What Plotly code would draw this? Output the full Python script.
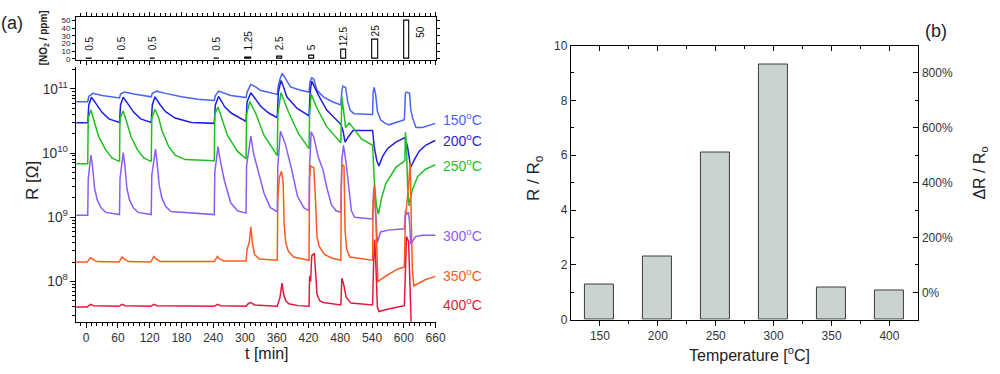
import plotly.graph_objects as go

FONT = "Liberation Sans, Arial, sans-serif"
W, H = 1000, 374

# ---------------- panel (a): resistance transients ----------------
t150 = [-19, 3, 5, 13, 30, 61, 63, 65, 72, 90, 121, 123, 125, 133, 150, 180, 211, 242, 244, 250, 273, 302,
        304, 311, 320, 330, 361, 363, 366, 370, 375, 386, 405, 421, 423, 426, 430, 436, 448, 465, 481,
        483, 485, 490, 494, 499, 506, 541, 542, 544, 547, 550, 556, 565, 572, 601,
        603, 605, 611, 613, 617, 623, 635, 660]
r150 = [6.3e10, 6.3e10, 7.6e10, 8.5e10, 7.9e10, 7.2e10, 7.2e10, 8.3e10, 8.9e10, 8.3e10, 7.5e10, 7.5e10, 8.5e10,
        9.2e10, 8.5e10, 7.5e10, 6.9e10, 6.6e10, 7.8e10, 9.2e10, 7.9e10, 7.3e10,
        8.9e10, 1.17e11, 1.07e11, 9.4e10, 8.2e10, 1.12e11, 1.41e11, 1.74e11, 1.51e11, 1.07e11, 9.5e10, 8.9e10,
        1.32e11, 1.48e11, 1.41e11, 9.5e10, 7.5e10, 6.3e10, 5.6e10,
        9.5e10, 1.10e11, 1.05e11, 6.3e10, 4.6e10, 4.1e10, 4.0e10, 8.9e10, 1.05e11, 7.9e10, 4.5e10, 3.3e10,
        2.9e10, 2.75e10, 3.3e10, 8.5e10, 8.9e10, 8.5e10, 4.8e10, 3.4e10, 2.5e10, 2.5e10, 2.9e10]

t200 = [-19, 3, 5, 10, 18, 30, 43, 61, 63, 65, 70, 78, 90, 103, 121, 123, 125, 130, 140, 150, 168, 199, 242,
        244, 250, 262, 274, 302, 304, 311, 330, 345, 361, 363, 368, 372, 379, 398, 421,
        423, 426, 430, 439, 454, 470, 481, 485, 489, 495, 504, 541,
        544, 549, 553, 560, 569, 585, 602, 607, 613, 620, 629, 641, 660]
r200 = [2.95e10, 2.95e10, 5.6e10, 7.4e10, 6.0e10, 4.3e10, 3.4e10, 3.0e10, 3.0e10, 5.6e10, 7.4e10, 6.0e10,
        4.3e10, 3.4e10, 3.0e10, 3.0e10, 5.6e10, 7.5e10, 5.6e10, 4.4e10, 3.5e10, 3.0e10, 2.9e10,
        5.6e10, 7.6e10, 5.2e10, 4.2e10, 3.1e10, 6.3e10, 8.7e10, 5.3e10, 4.2e10, 3.55e10, 8.9e10, 1.35e11,
        1.12e11, 7.5e10, 5.0e10, 3.8e10, 8.9e10, 1.32e11, 1.12e11, 7.9e10, 4.7e10, 3.4e10, 2.8e10,
        2.24e10, 1.48e10, 1.78e10, 2.24e10, 2.24e10, 1.26e10, 7.6e9, 6.3e9, 8.9e9, 1.17e10, 1.48e10,
        1.74e10, 1.26e10, 6.0e9, 7.9e9, 1.07e10, 1.32e10, 1.58e10]

t250 = [-19, 3, 4, 9, 15, 24, 37, 49, 61, 63, 64, 70, 76, 85, 97, 109, 121, 123, 124, 130, 137, 143, 156,
        168, 187, 242, 243, 249, 262, 267, 286, 302, 303, 309, 320, 336, 361, 362, 368, 382, 401, 421,
        422, 425, 435, 454, 481, 483, 487, 490, 497, 505, 520, 541, 544, 548, 552, 558, 566, 585, 602,
        603, 605, 607, 610, 616, 626, 641, 660]
r250 = [6.8e9, 6.8e9, 3.5e10, 4.7e10, 3.16e10, 1.78e10, 1.12e10, 8.4e9, 7.5e9, 7.5e9, 3.5e10, 4.5e10,
        3.16e10, 1.78e10, 1.12e10, 8.4e9, 7.5e9, 7.5e9, 3.5e10, 4.8e10, 3.55e10, 2.24e10, 1.26e10, 9.3e9,
        7.9e9, 7.6e9, 4.0e10, 5.2e10, 2.5e10, 1.88e10, 1.06e10, 8.1e9, 4.0e10, 6.3e10, 4.2e10, 1.88e10,
        9.1e9, 4.0e10, 8.7e10, 4.4e10, 2.0e10, 1.17e10, 4.0e10, 8.3e10, 5.2e10, 2.6e10, 1.45e10, 7.6e10,
        4.0e10, 2.5e10, 2.95e10, 2.4e10, 1.66e10, 1.32e10, 4.0e9, 1.58e9, 1.12e9, 2.0e9, 3.35e9, 6.0e9,
        7.6e9, 2.1e10, 1.26e10, 3.16e9, 1.5e9, 2.66e9, 4.3e9, 5.6e9, 6.6e9]

t300 = [-19, 3, 4, 9, 12, 16, 21, 28, 37, 61, 63, 64, 70, 73, 77, 82, 89, 98, 121, 123, 124, 131, 134, 138,
        143, 150, 160, 242, 243, 249, 253, 261, 273, 286, 302, 303, 311, 316, 323, 336, 348, 361, 362, 367,
        376, 388, 399, 411, 421, 422, 425, 430, 438, 447, 455, 463, 472, 481, 483, 486, 491, 497, 501, 507,
        541, 543, 546, 550, 556, 570, 601, 603, 606, 609, 611, 613, 622, 635, 660]
r300 = [1.07e9, 1.07e9, 4.0e9, 9.3e9, 6.3e9, 2.8e9, 1.86e9, 1.41e9, 1.19e9, 1.1e9, 1.1e9, 4.0e9, 1.02e10,
        6.6e9, 2.8e9, 1.86e9, 1.41e9, 1.19e9, 1.1e9, 1.1e9, 4.5e9, 1.15e10, 7.1e9, 3.16e9, 2.0e9, 1.48e9,
        1.23e9, 1.1e9, 5.0e9, 1.26e10, 7.9e9, 3.76e9, 1.68e9, 1.26e9, 1.16e9, 6.3e9, 1.84e10, 1.0e10, 6.0e9,
        2.37e9, 1.41e9, 1.22e9, 6.3e9, 2.19e10, 1.4e10, 5.6e9, 2.14e9, 1.41e9, 1.26e9, 6.3e9, 2.14e10,
        1.78e10, 8.8e9, 5.6e9, 2.8e9, 1.58e9, 1.26e9, 1.2e9, 7.9e9, 1.32e10, 7.0e9, 2.63e9, 1.26e9, 1.0e9,
        9.4e8, 2.8e9, 1.58e9, 4.0e8, 5.9e8, 6.3e8, 6.6e8, 1.26e9, 1.12e9, 1.2e9, 7.9e8, 3.8e8, 5.0e8,
        5.25e8, 5.25e8]

t350 = [-19, 2, 8, 12, 20, 62, 68, 72, 80, 122, 128, 132, 140, 242, 248, 252, 260, 302, 304, 308, 311, 314,
        318, 327, 361, 362, 365, 369, 372, 374, 377, 382, 392, 421, 422, 424, 430, 433, 436, 440, 450, 465,
        481, 482, 483, 487, 489, 492, 498, 541, 542, 544, 547, 551, 556, 569, 588, 601, 603, 608, 612, 614,
        616, 619, 629, 641, 660]
r350 = [2.0e8, 2.0e8, 2.34e8, 2.24e8, 2.04e8, 2.0e8, 2.4e8, 2.24e8, 2.04e8, 2.0e8, 2.45e8, 2.24e8, 2.04e8,
        2.04e8, 2.45e8, 2.24e8, 2.09e8, 2.09e8, 3.16e8, 4.0e8, 7.1e8, 4.0e8, 2.63e8, 2.24e8, 2.14e8, 2.0e9,
        4.2e9, 5.2e9, 3.55e9, 7.9e8, 4.0e8, 2.95e8, 2.4e8, 2.14e8, 4.0e9, 6.3e9, 5.9e9, 2.0e9, 5.0e8,
        3.55e8, 2.63e8, 2.3e8, 2.14e8, 3.16e9, 6.6e9, 6.3e9, 6.3e8, 3.16e8, 2.4e8, 2.14e8, 1.58e9, 3.16e9,
        1.0e9, 9.8e7, 1.07e8, 1.26e8, 1.55e8, 1.68e8, 1.0e9, 2.5e9, 7.1e9, 1.0e9, 1.58e8, 8.5e7, 9.5e7,
        1.07e8, 1.2e8]

t400 = [-19, 2, 8, 14, 62, 68, 74, 122, 128, 134, 242, 248, 254, 302, 306, 311, 318, 361, 366, 370, 373,
        377, 383, 400, 421, 422, 424, 426, 431, 433, 436, 441, 448, 481, 483, 486, 491, 500, 541, 543, 545,
        547, 550, 553, 569, 601, 603, 605, 609, 611, 614, 616]
r400 = [4.0e7, 4.0e7, 4.4e7, 4.2e7, 4.1e7, 4.4e7, 4.2e7, 4.1e7, 4.4e7, 4.2e7, 4.1e7, 4.4e7, 4.2e7, 4.1e7,
        4.5e7, 4.7e7, 4.3e7, 4.1e7, 5.6e7, 9.4e7, 6.3e7, 5.0e7, 4.5e7, 4.2e7, 4.1e7, 1.2e8, 1.0e8, 2.5e8,
        2.75e8, 1.26e8, 6.3e7, 5.0e7, 4.7e7, 4.3e7, 1.12e8, 9.3e7, 5.75e7, 4.6e7, 4.3e7, 2.0e8, 4.5e8,
        2.0e8, 4.0e7, 3.4e7, 3.7e7, 4.2e7, 2.0e8, 5.0e8, 4.2e8, 1.58e8, 2.0e7, 6.3e6]

curve_names = ["150", "200", "250", "300", "350", "400"]
curve_colors = ["#4a63f5", "#1f1fe0", "#1fbf1f", "#8a5cff", "#ff5a1e", "#e3173c"]
curve_label_y = [116, 138, 164, 237, 278, 309]   # label positions (px from top)

# NO2 pulse programme (top strip)
pulse_start = [1, 61, 121, 241, 301, 361, 421, 481, 541, 601]
pulse_len = 10
no2_ppm = [0.5, 0.5, 0.5, 0.5, 1.25, 2.5, 5, 12.5, 25, 50]
no2_text = ["0.5", "0.5", "0.5", "0.5", "1.25", "2.5", "5", "12.5", "25", "50"]

# ---------------- panel (b): response ----------------
temps = [150, 200, 250, 300, 350, 400]
ratio = [1.27, 2.30, 6.10, 9.30, 1.17, 1.06]
pct_ticks = [0, 200, 400, 600, 800]

fig = go.Figure()

curves = [(t150, r150), (t200, r200), (t250, r250), (t300, r300), (t350, r350), (t400, r400)]
for (tt, rr), col in zip(curves, curve_colors):
    fig.add_trace(go.Scatter(x=tt, y=rr, mode="lines", line=dict(color=col, width=1.5),
                             xaxis="x", yaxis="y", showlegend=False, hoverinfo="skip"))

fig.add_trace(go.Bar(x=pulse_start, y=no2_ppm, width=pulse_len, offset=0,
                     marker=dict(color="white", line=dict(color="black", width=1.1)),
                     xaxis="x2", yaxis="y2", showlegend=False))

fig.add_trace(go.Bar(x=temps, y=ratio, width=25,
                     marker=dict(color="#cbd3d1", line=dict(color="#3c3c3c", width=1)),
                     xaxis="x3", yaxis="y3", showlegend=False))
fig.add_trace(go.Scatter(x=temps, y=[(v - 1) * 100 for v in ratio], mode="markers",
                         marker=dict(opacity=0), xaxis="x4", yaxis="y4",
                         showlegend=False, hoverinfo="skip"))

def py(px):
    return 1 - px / H

base = dict(showgrid=False, zeroline=False, showline=True, linecolor="black", linewidth=1.2,
            tickcolor="black", tickwidth=1)
tf12 = dict(family=FONT, size=12, color="#333")

xr = [-18.7, 660]
fig.update_layout(
    width=W, height=H, margin=dict(l=0, r=0, t=0, b=0),
    paper_bgcolor="white", plot_bgcolor="white", showlegend=False,
    font=dict(family=FONT, color="#222"), bargap=0,
    xaxis=dict(domain=[0.077, 0.44], range=xr, anchor="y", ticks="outside", ticklen=5,
               tick0=0, dtick=60, tickfont=tf12,
               minor=dict(tick0=0, dtick=10, ticks="outside", ticklen=3, tickcolor="black"), **base),
    yaxis=dict(type="log", domain=[py(327), py(62)], range=[7.372, 11.345], anchor="x",
               ticks="outside", ticklen=5, dtick=1, exponentformat="power", showexponent="all",
               tickfont=dict(family=FONT, size=11, color="#333"),
               minor=dict(ticks="outside", ticklen=3, dtick="D1", tickcolor="black"), **base),
    xaxis2=dict(domain=[0.077, 0.44], range=xr, anchor="y2", ticks="outside", ticklen=4, mirror="ticks",
                tick0=0, dtick=60, showticklabels=False,
                minor=dict(tick0=0, dtick=10, ticks="outside", ticklen=3, tickcolor="black"), **base),
    yaxis2=dict(domain=[py(55), py(10)], range=[-1.25, 55], anchor="x2", ticks="outside", ticklen=3,
                mirror="ticks", tick0=0, dtick=10,
                tickfont=dict(family=FONT, size=8, color="#222"), **base),
    xaxis3=dict(domain=[0.5767, 0.9277], range=[125, 425], anchor="y3", ticks="outside", ticklen=5,
                tickvals=temps, tickfont=tf12,
                minor=dict(tickvals=[175, 225, 275, 325, 375], ticks="outside", ticklen=3,
                           tickcolor="black"), **base),
    xaxis4=dict(overlaying="x3", side="top", range=[125, 425], anchor="y3", ticks="inside", ticklen=5,
                tickvals=temps, showticklabels=False,
                minor=dict(tickvals=[175, 225, 275, 325, 375], ticks="inside", ticklen=3,
                           tickcolor="black"), **base),
    yaxis3=dict(domain=[py(325), py(40)], range=[0, 10], anchor="x3", ticks="inside", ticklen=5,
                dtick=2, tickfont=tf12,
                minor=dict(dtick=1, ticks="inside", ticklen=3, tickcolor="black"), **base),
    yaxis4=dict(overlaying="y3", side="right", range=[-100, 900], anchor="x3", ticks="inside",
                ticklen=5, tickvals=pct_ticks, ticktext=[f"{v}%" for v in pct_ticks], tickfont=tf12,
                minor=dict(tick0=0, dtick=100, ticks="inside", ticklen=3, tickcolor="black"), **base),
)

ann = []
# pulse concentration labels
for s, c, txt in zip(pulse_start, no2_ppm, no2_text):
    if c >= 50:
        ann.append(dict(x=s + pulse_len + 5, y=35, xref="x2", yref="y2", text=txt, textangle=-90,
                        showarrow=False, xanchor="left", yanchor="middle",
                        font=dict(family=FONT, size=10, color="#111")))
    else:
        ann.append(dict(x=s + pulse_len / 2, y=max(c + 2, 8.5), xref="x2", yref="y2", text=txt,
                        textangle=-90, showarrow=False, xanchor="center", yanchor="bottom",
                        font=dict(family=FONT, size=10, color="#111")))

# curve labels
for name, col, ypx in zip(curve_names, curve_colors, curve_label_y):
    ann.append(dict(x=445 / W, y=py(ypx), xref="paper", yref="paper", text=name + "<sup>o</sup>C",
                    showarrow=False, xanchor="left", yanchor="middle",
                    font=dict(family=FONT, size=14, color=col)))

def txt(x, y, s, size, angle=0, **kw):
    ann.append(dict(x=x / W, y=py(y), xref="paper", yref="paper", text=s, showarrow=False,
                    textangle=angle, xanchor="center", yanchor="middle",
                    font=dict(family=FONT, size=size, color=kw.get("color", "#222"))))

txt(12, 17, "(a)", 18)
txt(945, 25, "(b)", 18)
txt(44, 32, "<b>[NO<sub>2</sub> / ppm]</b>", 10, -90)
txt(33, 180, "R [Ω]", 17, -90)
txt(270, 360, "t [min]", 16)
txt(541, 178, "R / R<sub>o</sub>", 17, -90)
txt(990, 173, "ΔR / R<sub>o</sub>", 16, -90)
txt(757, 361, "Temperature [<sup>o</sup>C]", 16)

fig.update_layout(annotations=ann)
fig.write_html("out.html", config={"displayModeBar": False},
               post_script="document.body.style.margin='0';document.body.style.overflow='hidden';")
